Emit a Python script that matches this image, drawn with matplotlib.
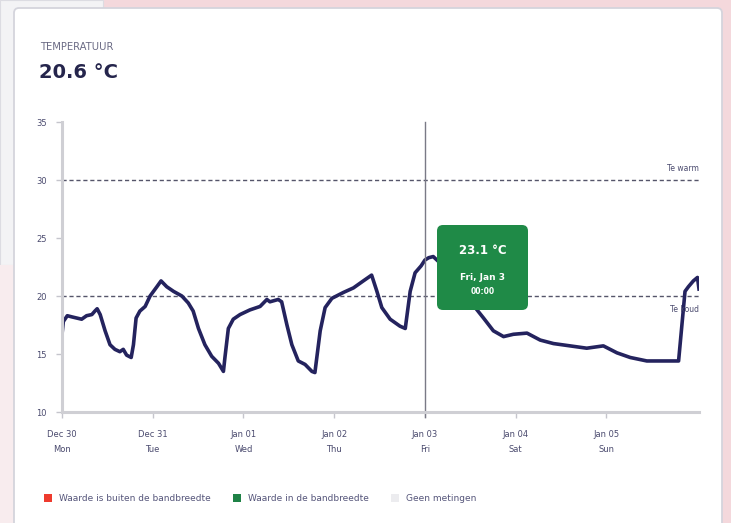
import matplotlib
matplotlib.use('Agg')
import matplotlib.pyplot as plt
from matplotlib.patches import Rectangle, FancyBboxPatch

# Temperature readings: hours since Dec 30 00:00 and degrees Celsius
hours = [0.1, 0.35, 1.4, 2.6, 3.9, 5.2, 6.5, 7.9, 8.7, 9.3, 10.1, 11.4, 12.7,
         14.0, 15.3, 16.2, 17.1, 18.3, 18.9, 19.6, 20.6, 22.0, 23.3, 25.1,
         26.2, 27.7, 29.5, 31.7, 33.4, 34.7, 36.1, 37.8, 39.6, 41.4, 42.7,
         43.1, 44.0, 45.3, 47.1, 49.7, 52.4, 54.2, 55.0, 57.2, 58.1, 59.5,
         60.8, 62.5, 64.3, 66.1, 66.9, 68.3, 69.6, 71.4, 74.4, 77.1, 79.7,
         81.9, 83.3, 84.6, 86.8, 89.4, 90.8, 92.1, 93.4, 95.0, 96.0, 97.0,
         98.2, 99.5, 102.0, 105.0, 107.5, 109.3, 111.5, 114.1, 116.8, 119.4,
         123.0, 126.5, 130.0, 134.4, 138.8, 143.2, 146.8, 150.3, 154.7,
         159.1, 161.8, 163.1, 164.8, 165.7, 167.0, 168.1, 168.5]
temps = [17.0, 17.8, 18.3, 18.2, 18.1, 18.0, 18.3, 18.4, 18.7, 18.9, 18.4,
         17.0, 15.8, 15.4, 15.2, 15.4, 14.9, 14.7, 15.8, 18.1, 18.7, 19.1,
         20.0, 20.8, 21.3, 20.8, 20.4, 20.0, 19.4, 18.7, 17.2, 15.8, 14.8,
         14.2, 13.5, 14.7, 17.2, 18.0, 18.4, 18.8, 19.1, 19.7, 19.5, 19.7,
         19.5, 17.5, 15.8, 14.4, 14.1, 13.5, 13.4, 17.0, 19.0, 19.8, 20.3,
         20.7, 21.3, 21.8, 20.4, 19.0, 18.0, 17.4, 17.2, 20.4, 22.0, 22.6,
         23.1, 23.3, 23.4, 23.0, 22.0, 21.0, 20.0, 19.0, 18.1, 17.0, 16.5,
         16.7, 16.8, 16.2, 15.9, 15.7, 15.5, 15.7, 15.1, 14.7, 14.4, 14.4,
         14.4, 14.4, 20.4, 20.8, 21.3, 21.6, 20.6]

y_ticks = [10, 15, 20, 25, 30, 35]
day_ticks = [0, 24, 48, 72, 96, 120, 144]
day_labels = ['Dec 30\nMon', 'Dec 31\nTue', 'Jan 01\nWed', 'Jan 02\nThu',
              'Jan 03\nFri', 'Jan 04\nSat', 'Jan 05\nSun']
too_warm = 30
too_cold = 20
hover_hour = 96
hover_temp = 23.1
hover_day = 'Fri, Jan 3'
hover_time = '00:00'
legend_items = [('Waarde is buiten de bandbreedte', '#ee3b2e'),
                ('Waarde in de bandbreedte', '#1f8246'),
                ('Geen metingen', '#ececef')]

W, H = 731, 523
NAVY = '#24235e'
TEXT = '#4a4a6e'
GREEN = '#1f8a47'

fig = plt.figure(figsize=(W / 100, H / 100), dpi=100)
fig.patch.set_facecolor('#f4d8dc')

# page behind the card, in pixel coordinates
bg = fig.add_axes([0, 0, 1, 1], zorder=-1)
bg.set_xlim(0, W)
bg.set_ylim(H, 0)
bg.axis('off')
bg.add_patch(Rectangle((0, 0), 103, 265, fc='#f3f3f5', ec='#dcdce2', lw=0.8))
bg.add_patch(Rectangle((0, 265), 14, H - 265, fc='#f8ecee', ec='none'))
bg.add_patch(FancyBboxPatch((14, 8), 708, 540,
                            boxstyle='round,pad=0,rounding_size=5',
                            fc='white', ec='#d4d4dc', lw=1.3))
bg.text(40, 47, 'TEMPERATUUR', fontsize=7.2, color='#6a6a84', va='center')
bg.text(39, 73, f'{temps[-1]:.1f} °C', fontsize=14, fontweight='bold',
        color='#25254c', va='center')

# chart
ax = fig.add_axes([62 / W, 1 - 412 / H, (699 - 62) / W, (412 - 122) / H])
ax.set_facecolor('none')
ax.set_xlim(0, 168.5)
ax.set_ylim(10, 35)
for side in ('top', 'right'):
    ax.spines[side].set_visible(False)
for side in ('left', 'bottom'):
    ax.spines[side].set_color('#cfcfd4')
    ax.spines[side].set_linewidth(2.2)

ax.set_yticks(y_ticks)
ax.set_yticklabels([str(t) for t in y_ticks])
ax.set_xticks(day_ticks)
ax.set_xticklabels(day_labels, linespacing=1.8)
ax.tick_params(axis='y', length=4, width=1, color='#c5c5cc',
               labelsize=6, labelcolor=TEXT, pad=7)
ax.tick_params(axis='x', length=4, width=1, color='#c5c5cc',
               labelsize=6, labelcolor=TEXT, pad=9)

for level, label, dy in ((too_warm, 'Te warm', 8), (too_cold, 'Te koud', -10)):
    ax.axhline(level, color='#55556a', lw=1.0, ls=(0, (3, 2)))
    ax.annotate(label, (1, level), xycoords=('axes fraction', 'data'),
                xytext=(0, dy), textcoords='offset points',
                ha='right', va='center', fontsize=5.5, color=TEXT)

ax.plot(hours, temps, color=NAVY, lw=2.6, solid_joinstyle='round')

# hover crosshair
ax.plot([hover_hour, hover_hour], [35, 9.6], color='#7a7a86', lw=1.0,
        clip_on=False)

# tooltip and legend on top
top = fig.add_axes([0, 0, 1, 1], zorder=3)
top.set_xlim(0, W)
top.set_ylim(H, 0)
top.axis('off')
top.add_patch(FancyBboxPatch((437, 225), 91, 85,
                             boxstyle='round,pad=0,rounding_size=6',
                             fc=GREEN, ec='none'))
top.text(482.5, 251, f'{hover_temp:.1f} °C', fontsize=8.5, fontweight='bold',
         color='white', ha='center', va='center')
top.text(482.5, 278, hover_day, fontsize=6.5, fontweight='bold',
         color='white', ha='center', va='center')
top.text(482.5, 292, hover_time, fontsize=5.5, fontweight='bold',
         color='white', ha='center', va='center')

x0 = 44
for label, colour in legend_items:
    top.add_patch(Rectangle((x0, 494), 8, 8, fc=colour, ec='none'))
    t = top.text(x0 + 15, 498.5, label, fontsize=6.5, color='#55557a',
                 va='center')
    fig.canvas.draw()
    bb = t.get_window_extent()
    x0 = x0 + 15 + bb.width + 22

fig.savefig('out.png', dpi=100, facecolor=fig.get_facecolor())
